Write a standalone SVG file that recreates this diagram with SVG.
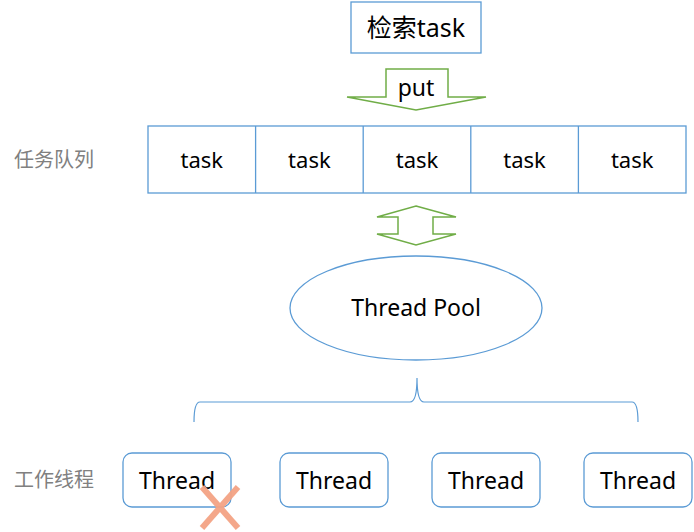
<svg xmlns="http://www.w3.org/2000/svg" width="694" height="532" viewBox="0 0 694 532">
<style>
.b{fill:#fff;stroke:#5B9BD5;stroke-width:1.3}
.g{fill:#fff;stroke:#70AD47;stroke-width:1.5}
.t{font-family:"Noto Sans","Noto Sans CJK SC",sans-serif;fill:#000;text-anchor:middle}
.lbl{font-family:"Noto Sans CJK SC",sans-serif;fill:#808080;font-size:20px}
</style>
<rect width="694" height="532" fill="#fff"/>
<g id="search">
<rect class="b" x="351" y="2" width="130" height="51"/>
<text class="t" x="416" y="37" font-size="25">检索task</text>
</g>
<g id="put">
<polygon class="g" points="386,69 448,69 448,97 486,97 416,110 347,97 386,97"/>
<text class="t" x="416" y="96" font-size="23">put</text>
</g>
<text class="lbl" x="14" y="167">任务队列</text>
<g id="queue">
<rect class="b" x="148" y="126" width="538" height="67"/>
<line class="b" x1="255.6" y1="126" x2="255.6" y2="193"/>
<line class="b" x1="363.2" y1="126" x2="363.2" y2="193"/>
<line class="b" x1="470.8" y1="126" x2="470.8" y2="193"/>
<line class="b" x1="578.4" y1="126" x2="578.4" y2="193"/>
<text class="t" x="201.8" y="168" font-size="22">task</text>
<text class="t" x="309.4" y="168" font-size="22">task</text>
<text class="t" x="417" y="168" font-size="22">task</text>
<text class="t" x="524.6" y="168" font-size="22">task</text>
<text class="t" x="632.2" y="168" font-size="22">task</text>
</g>
<g id="connectors">
<polygon class="g" points="416,206 456,217 433,217 433,234 456,234 416,245 377,234 398,234 398,217 377,217"/>
<path d="M194,422 Q194,402 200,402 L410,402 Q417,402 417,378 Q417,402 424,402 L632,402 Q638,402 638,422" fill="none" stroke="#5B9BD5" stroke-width="1.2"/>
</g>
<g id="pool">
<ellipse class="b" cx="416" cy="308" rx="126" ry="52"/>
<text class="t" x="416" y="316" font-size="23">Thread Pool</text>
</g>
<text class="lbl" x="14" y="487">工作线程</text>
<g id="thread1">
<rect class="b" x="123" y="453" width="108" height="54" rx="9"/>
<text class="t" x="177" y="489" font-size="23">Thread</text>
</g>
<g id="thread2">
<rect class="b" x="280" y="453" width="108" height="54" rx="9"/>
<text class="t" x="334" y="489" font-size="23">Thread</text>
</g>
<g id="thread3">
<rect class="b" x="432" y="453" width="108" height="54" rx="9"/>
<text class="t" x="486" y="489" font-size="23">Thread</text>
</g>
<g id="thread4">
<rect class="b" x="584" y="453" width="108" height="54" rx="9"/>
<text class="t" x="638" y="489" font-size="23">Thread</text>
</g>
<g id="cross" stroke="#F4A384" stroke-width="6" stroke-linecap="butt" opacity="0.95">
<line x1="202" y1="487" x2="238" y2="528"/>
<line x1="238" y1="487" x2="202" y2="528"/>
</g>
</svg>
